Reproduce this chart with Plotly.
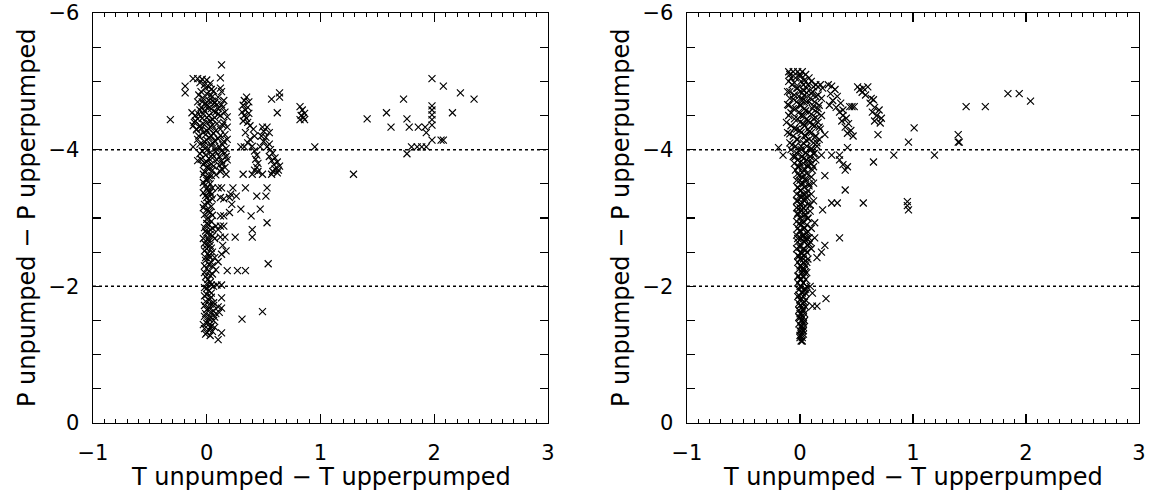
import plotly.graph_objects as go

# ---------------- data ----------------
# Left panel: scattered / clustered points
left_dT = [
    -0.12, -0.08, -0.04, 0.00, -0.19, -0.19, 0.13, 0.12, 0.12, 0.13,
    -0.02, 0.02, 0.04, -0.05, 0.00, 0.05, -0.03, 0.02, -0.08, 0.07,
    0.00, -0.05, 0.04, 0.10, 0.14, -0.02, 0.08, 0.16, -0.07, 0.02,
    0.12, 0.18, -0.04, 0.05, -0.10, 0.00, 0.15, 0.09, -0.06, 0.03,
    0.18, -0.09, 0.12, 0.00, -0.03, 0.06, 0.16, -0.07, 0.02, 0.10,
    0.18, -0.02, 0.05, -0.06, 0.14, 0.00, 0.08, -0.04, 0.03, 0.16,
    -0.01, 0.11, 0.05, -0.05, 0.18, 0.00, 0.14, -0.03, 0.06, 0.16,
    0.02, -0.02, 0.12, 0.17, 0.04, 0.00, 0.10, 0.15, 0.07, 0.13,
    -0.32, -0.12, -0.08, -0.10, -0.11, -0.12, -0.13, -0.09,
    0.00, 0.03, -0.02, 0.05, 0.10, 0.13, 0.01, -0.03, 0.04, 0.12,
    0.15, 0.00, 0.02, -0.02, 0.04, 0.00, 0.03, 0.12, 0.15, -0.02,
    0.01, 0.04, 0.00, 0.08, 0.12, 0.15, -0.02, 0.03, 0.10, 0.00,
    0.05, 0.12, 0.16, -0.03, 0.02, 0.00, 0.14, 0.04, -0.02, 0.17,
    0.01, 0.13, 0.03, 0.07, -0.01, 0.10, 0.02, 0.05, 0.00, 0.08,
    -0.02, 0.03, 0.01, 0.00, 0.04, 0.09, 0.13, -0.02, 0.02, 0.00,
    0.04, 0.13, -0.01, 0.03, 0.06, 0.10, 0.13, 0.00, 0.04, 0.08,
    0.11, -0.02, 0.02, 0.06, 0.00, 0.04, -0.02, 0.02, 0.05, 0.00,
    0.13, 0.10, 0.20, 0.21, 0.22, 0.20,
    0.23, 0.34, 0.53, 0.26, 0.44, 0.52, 0.30, 0.47, 0.39, 0.53,
    0.40, 0.40, 0.25, 0.54, 0.18, 0.27, 0.34, 0.49, 0.31, 1.29,
    0.95, 0.32, 0.40, 0.49, 0.57,
    0.35, 0.33, 0.37, 0.32, 0.36, 0.34, 0.31, 0.37, 0.33, 0.35,
    0.32, 0.36, 0.38, 0.41, 0.34, 0.42, 0.38, 0.36, 0.30, 0.33,
    0.40, 0.42, 0.44, 0.43, 0.45, 0.44, 0.42, 0.45,
    0.49, 0.53, 0.50, 0.55, 0.48, 0.52, 0.50, 0.55, 0.47, 0.53,
    0.56, 0.58, 0.55, 0.60, 0.57, 0.62, 0.59, 0.64, 0.60, 0.63,
    0.58, 0.62, 0.57, 0.64, 0.64, 0.62,
    0.82, 0.84, 0.86, 0.83, 0.85, 0.82, 0.86,
    1.41, 1.58, 1.62, 1.73, 1.76, 1.78, 1.86, 1.92, 1.93, 1.98,
    1.98, 1.98, 1.98, 1.98, 1.98, 1.98, 2.08, 2.06, 2.08, 2.16,
    2.23, 2.35, 1.76, 1.80, 1.85, 1.89, 1.93,
]
left_dP = [
    -5.04, -5.04, -5.03, -5.02, -4.93, -4.83, -5.24, -5.05, -4.90, -4.85,
    -4.95, -4.92, -4.88, -4.85, -4.82, -4.78, -4.75, -4.72, -4.70, -4.68,
    -4.65, -4.62, -4.60, -4.60, -4.62, -4.57, -4.55, -4.55, -4.52, -4.50,
    -4.50, -4.48, -4.46, -4.44, -4.42, -4.40, -4.40, -4.38, -4.35, -4.33,
    -4.33, -4.30, -4.30, -4.28, -4.25, -4.24, -4.22, -4.20, -4.18, -4.16,
    -4.15, -4.12, -4.10, -4.08, -4.07, -4.04, -4.02, -3.98, -3.96, -3.95,
    -3.92, -3.90, -3.88, -3.86, -3.85, -3.82, -3.80, -3.78, -3.76, -3.74,
    -3.72, -3.68, -3.68, -3.64, -3.62, -3.58, -4.77, -4.72, -4.69, -4.66,
    -4.44, -4.04, -3.84, -4.50, -4.40, -4.35, -4.54, -4.29,
    -3.55, -3.50, -3.47, -3.44, -3.44, -3.44, -3.40, -3.37, -3.34, -3.30,
    -3.28, -3.30, -3.25, -3.20, -3.17, -3.12, -3.08, -3.03, -3.03, -3.05,
    -3.00, -2.95, -2.92, -2.88, -2.88, -2.88, -2.86, -2.83, -2.83, -2.78,
    -2.74, -2.72, -2.72, -2.70, -2.66, -2.60, -2.60, -2.56, -2.52, -2.52,
    -2.48, -2.47, -2.42, -2.42, -2.38, -2.36, -2.32, -2.30, -2.26, -2.24,
    -2.20, -2.16, -2.10, -2.04, -2.02, -2.02, -2.02, -1.98, -1.94, -1.88,
    -1.84, -1.83, -1.78, -1.74, -1.72, -1.70, -1.68, -1.66, -1.62, -1.60,
    -1.62, -1.56, -1.52, -1.50, -1.46, -1.42, -1.38, -1.36, -1.34, -1.32,
    -1.32, -1.22, -3.30, -3.35, -3.20, -3.08,
    -3.44, -3.44, -3.44, -3.32, -3.32, -3.32, -3.13, -3.13, -3.03, -2.93,
    -2.83, -2.72, -2.72, -2.33, -2.23, -2.23, -2.23, -1.63, -1.52, -3.64,
    -4.04, -3.64, -3.64, -3.64, -3.64,
    -4.77, -4.72, -4.70, -4.65, -4.62, -4.58, -4.55, -4.53, -4.50, -4.46,
    -4.42, -4.40, -4.35, -4.30, -4.25, -4.20, -4.15, -4.10, -4.04, -4.04,
    -4.05, -3.98, -3.92, -3.86, -3.80, -3.74, -3.70, -3.68,
    -4.33, -4.33, -4.27, -4.25, -4.20, -4.18, -4.12, -4.08, -4.04, -4.04,
    -4.00, -3.95, -3.90, -3.88, -3.84, -3.82, -3.78, -3.76, -3.72, -3.70,
    -3.68, -3.66, -4.74, -4.77, -4.83, -4.54,
    -4.63, -4.58, -4.53, -4.50, -4.47, -4.44, -4.44,
    -4.45, -4.54, -4.33, -4.74, -4.45, -4.33, -4.33, -4.33, -4.25, -5.04,
    -4.64, -4.58, -4.51, -4.44, -4.36, -4.14, -4.93, -4.14, -4.14, -4.54,
    -4.83, -4.74, -3.94, -4.04, -4.04, -4.04, -4.04,
]
# Left panel: extra points filling the dense vertical column near dT = 0
left_col_dT = [
    -0.06, 0.03, -0.01, 0.06, -0.07, 0.03, -0.04, 0.05, -0.01, 0.09,
    -0.06, 0.01, 0.06, -0.03, 0.10, 0.00, 0.07, -0.08, 0.03, -0.03,
    0.05, 0.14, -0.05, 0.02, 0.08, -0.01, 0.12, 0.04, -0.08, 0.00,
    0.07, 0.15, -0.03, 0.04, 0.11, 0.17, 0.00, 0.08, 0.13, -0.06,
    0.05, 0.17, 0.02, 0.09, 0.13, -0.02, 0.04, 0.11, 0.00, 0.13,
    0.05, -0.03, 0.02, 0.08,
    0.02, -0.03, 0.01, 0.03, -0.01, 0.05, 0.01, -0.03, 0.02, 0.05,
    0.00, 0.02, 0.05, -0.01, 0.03, 0.07, 0.01, -0.02, 0.03, 0.00,
    0.05, 0.02, -0.01, 0.04, -0.02, 0.02, 0.05, -0.01, 0.03, 0.06,
    0.00, 0.04, -0.02, 0.02, 0.06, -0.02, 0.02, 0.06, -0.01, 0.03,
    0.07, 0.01, -0.03, 0.03, 0.07, -0.01, 0.03,
]
left_col_dP = [
    -4.98, -4.97, -4.90, -4.86, -4.80, -4.79, -4.70, -4.71, -4.68, -4.66,
    -4.58, -4.60, -4.56, -4.52, -4.52, -4.47, -4.47, -4.45, -4.42, -4.38,
    -4.36, -4.36, -4.31, -4.30, -4.28, -4.22, -4.21, -4.20, -4.15, -4.14,
    -4.13, -4.12, -4.06, -4.06, -4.04, -4.02, -3.99, -3.97, -3.98, -3.94,
    -3.93, -3.90, -3.87, -3.85, -3.84, -3.81, -3.79, -3.77, -3.74, -3.72,
    -3.70, -3.64, -3.62, -3.63,
    -3.58, -3.52, -3.45, -3.38, -3.33, -3.28, -3.22, -3.15, -3.10, -3.04,
    -2.98, -2.90, -2.85, -2.81, -2.76, -2.70, -2.70, -2.63, -2.60, -2.55,
    -2.50, -2.45, -2.42, -2.35, -2.30, -2.22, -2.18, -2.14, -2.06, -2.00,
    -1.97, -1.90, -1.86, -1.80, -1.76, -1.72, -1.68, -1.64, -1.60, -1.56,
    -1.55, -1.48, -1.44, -1.40, -1.40, -1.30, -1.28,
]

# Right panel: scattered / clustered points
right_dT = [
    -0.10, -0.06, -0.02, 0.02, -0.08, 0.00, 0.04, -0.05, 0.07, 0.12,
    0.16, 0.18, -0.03, 0.03, -0.09, 0.06, 0.10, -0.01, 0.14, -0.06,
    0.02, 0.08, -0.11, 0.00, 0.12, 0.16, -0.04, 0.05, -0.08, 0.10,
    0.01, 0.14, -0.02, 0.07, -0.12, 0.03, 0.11, 0.17, -0.05, 0.00,
    0.08, -0.09, 0.04, 0.13, -0.03, 0.06, 0.15, -0.07, 0.01, 0.10,
    -0.01, 0.05, 0.12, -0.04, 0.03, 0.09, 0.00, 0.07, -0.02, 0.04,
    0.11, -0.19, -0.15, 0.02, -0.01, 0.05, 0.00, 0.03, 0.08, -0.02,
    0.01, 0.06, 0.00, 0.04, -0.03, 0.02, 0.09, 0.00, 0.05, -0.02,
    0.03, 0.07, 0.01, -0.01, 0.04, 0.00, 0.06, 0.02, -0.02, 0.03,
    0.08, 0.00, 0.05, 0.01, -0.01, 0.03, 0.06, 0.00, 0.02, 0.04,
    -0.01, 0.01, 0.03, 0.00, 0.05, 0.02, -0.01, 0.01, 0.04, 0.00,
    0.02, 0.01, 0.00, 0.03, 0.01, 0.02, 0.00, 0.02,
    0.22, 0.12, 0.40, 0.20, 0.28, 0.33, 0.56, 0.35, 0.13, 0.04,
    0.08, 0.13, 0.15, 0.19, 0.22, 0.11, 0.23, 0.11, 0.15,
    0.25, 0.28, 0.31, 0.27, 0.33, 0.29, 0.36, 0.26, 0.32, 0.38,
    0.35, 0.38, 0.41, 0.37, 0.43, 0.40, 0.45, 0.42, 0.47, 0.44,
    0.46, 0.48, 0.51, 0.53, 0.56, 0.60, 0.58, 0.63, 0.65, 0.55,
    0.62, 0.66, 0.70, 0.64, 0.68, 0.72, 0.66, 0.71, 0.69,
    0.22, 0.19, 0.28, 0.35, 0.42, 0.35, 0.38, 0.40, 0.42, 0.65,
    0.83, 0.96, 1.01, 1.19, 1.40, 1.40, 1.41, 1.47, 1.64, 1.84,
    1.94, 2.04, 0.95, 0.96, 0.95,
]
right_dP = [
    -5.14, -5.14, -5.14, -5.14, -5.05, -5.07, -5.02, -4.98, -4.95, -4.92,
    -4.92, -4.95, -4.90, -4.87, -4.85, -4.83, -4.82, -4.78, -4.78, -4.74,
    -4.72, -4.70, -4.66, -4.65, -4.64, -4.60, -4.60, -4.57, -4.54, -4.52,
    -4.50, -4.47, -4.45, -4.42, -4.40, -4.38, -4.36, -4.33, -4.31, -4.28,
    -4.26, -4.23, -4.21, -4.18, -4.15, -4.13, -4.10, -4.07, -4.05, -4.02,
    -3.99, -3.96, -3.94, -3.90, -3.87, -3.85, -3.81, -3.78, -3.75, -3.72,
    -3.70, -4.03, -3.92, -3.66, -3.62, -3.58, -3.55, -3.50, -3.47, -3.44,
    -3.40, -3.36, -3.33, -3.29, -3.25, -3.22, -3.19, -3.15, -3.11, -3.07,
    -3.03, -2.99, -2.95, -2.91, -2.86, -2.82, -2.78, -2.74, -2.70, -2.66,
    -2.62, -2.57, -2.53, -2.48, -2.44, -2.40, -2.35, -2.30, -2.25, -2.20,
    -2.15, -2.10, -2.05, -2.00, -1.96, -1.92, -1.87, -1.82, -1.77, -1.72,
    -1.66, -1.60, -1.54, -1.48, -1.42, -1.36, -1.28, -1.20,
    -3.62, -3.51, -3.41, -3.12, -3.22, -3.22, -3.22, -2.71, -2.93, -2.71,
    -2.71, -2.71, -2.42, -2.50, -2.60, -1.90, -1.82, -1.71, -1.71,
    -4.95, -4.93, -4.88, -4.82, -4.78, -4.72, -4.68, -4.65, -4.62, -4.58,
    -4.55, -4.50, -4.46, -4.42, -4.38, -4.33, -4.28, -4.24, -4.20, -4.63,
    -4.63, -4.63, -4.92, -4.88, -4.90, -4.92, -4.80, -4.75, -4.73, -4.84,
    -4.68, -4.62, -4.58, -4.55, -4.50, -4.46, -4.42, -4.39, -4.22,
    -4.22, -3.92, -3.92, -3.92, -4.03, -3.85, -3.78, -3.70, -3.75, -3.82,
    -3.92, -4.11, -4.32, -3.92, -4.22, -4.11, -4.11, -4.63, -4.63, -4.82,
    -4.82, -4.71, -3.18, -3.12, -3.24,
]
# Right panel: extra points filling the dense vertical column near dT = 0
right_col_dT = [
    -0.09, 0.00, 0.05, -0.04, 0.08, -0.10, 0.01, 0.10, -0.07, 0.03,
    0.14, -0.02, 0.06, 0.20, -0.11, 0.00, 0.11, -0.05, 0.04, 0.16,
    -0.09, 0.02, 0.09, 0.19, -0.03, 0.06, 0.13, -0.10, 0.01, 0.17,
    -0.06, 0.04, 0.11, -0.01, 0.08, 0.15, -0.10, 0.03, 0.19, -0.05,
    0.06, 0.12, 0.00, 0.09, 0.16, -0.08, 0.04, 0.13, -0.03, 0.07,
    0.18, -0.11, 0.01, 0.10, -0.06, 0.05, 0.14, -0.02, 0.08, 0.17,
    -0.09, 0.03, 0.12, -0.04, 0.06, 0.15, -0.08, 0.01, 0.10, -0.03,
    0.05, 0.13, -0.06, 0.02, 0.09, -0.02, 0.06, 0.14, -0.05, 0.03,
    0.10, -0.01, 0.07, 0.12, -0.04, 0.04,
    -0.02, 0.06, 0.02, 0.10, -0.03, 0.05, 0.01, 0.08, -0.02, 0.04,
    0.00, 0.07, -0.03, 0.03, 0.10, 0.01, 0.06, -0.02, 0.04, 0.12,
    0.00, 0.07, -0.03, 0.03, 0.01, 0.09, -0.02, 0.05, 0.00, 0.07,
    -0.03, 0.03, 0.01, 0.06, -0.02, 0.04, 0.10, 0.00, 0.07, -0.03,
    0.03, 0.01, 0.06, -0.02, 0.04, 0.09, 0.00, 0.07, -0.03, 0.03,
    0.10, 0.01, 0.06, -0.02, 0.04, 0.00, 0.07, -0.02, 0.03, 0.01,
    0.05, -0.01, 0.04, 0.02, 0.06, -0.02, 0.03, 0.00, 0.05, -0.02,
    0.03, 0.01, 0.06, 0.09, -0.01, 0.04, 0.02, 0.05, -0.02, 0.03,
    0.00, 0.05, -0.01, 0.03, 0.02, 0.05, -0.01, 0.03, 0.00, 0.04,
    -0.01, 0.03, 0.01, 0.04, -0.01, 0.03, 0.01, 0.03, 0.00, 0.03,
    0.01, 0.03, 0.00, 0.02, 0.01,
]
right_col_dP = [
    -5.10, -5.10, -5.10, -5.05, -5.05, -5.00, -5.00, -5.00, -4.95, -4.95,
    -4.95, -4.90, -4.90, -4.90, -4.85, -4.85, -4.85, -4.80, -4.80, -4.80,
    -4.75, -4.75, -4.75, -4.75, -4.70, -4.70, -4.70, -4.65, -4.65, -4.65,
    -4.60, -4.60, -4.60, -4.55, -4.55, -4.55, -4.50, -4.50, -4.50, -4.45,
    -4.45, -4.45, -4.40, -4.40, -4.40, -4.35, -4.35, -4.35, -4.30, -4.30,
    -4.30, -4.25, -4.25, -4.25, -4.20, -4.20, -4.20, -4.15, -4.15, -4.15,
    -4.10, -4.10, -4.10, -4.05, -4.05, -4.05, -4.00, -4.00, -4.00, -3.95,
    -3.95, -3.95, -3.90, -3.90, -3.90, -3.85, -3.85, -3.85, -3.80, -3.80,
    -3.80, -3.75, -3.75, -3.75, -3.70, -3.70,
    -3.65, -3.65, -3.60, -3.60, -3.55, -3.55, -3.50, -3.50, -3.45, -3.45,
    -3.40, -3.40, -3.35, -3.35, -3.35, -3.30, -3.30, -3.25, -3.25, -3.25,
    -3.20, -3.20, -3.15, -3.15, -3.10, -3.10, -3.05, -3.05, -3.00, -3.00,
    -2.95, -2.95, -2.90, -2.90, -2.85, -2.85, -2.85, -2.80, -2.80, -2.75,
    -2.75, -2.70, -2.70, -2.65, -2.65, -2.65, -2.60, -2.60, -2.55, -2.55,
    -2.55, -2.50, -2.50, -2.45, -2.45, -2.40, -2.40, -2.35, -2.35, -2.30,
    -2.30, -2.25, -2.25, -2.20, -2.20, -2.15, -2.15, -2.10, -2.10, -2.05,
    -2.05, -2.00, -2.00, -2.00, -1.95, -1.95, -1.90, -1.90, -1.85, -1.85,
    -1.80, -1.80, -1.75, -1.75, -1.70, -1.70, -1.65, -1.65, -1.60, -1.60,
    -1.55, -1.55, -1.50, -1.50, -1.45, -1.45, -1.40, -1.40, -1.35, -1.35,
    -1.30, -1.30, -1.25, -1.25, -1.20,
]

x_ticks = [-1, 0, 1, 2, 3]
y_ticks = [0, -2, -4, -6]
ref_levels = [-4, -2]
x_title = "T unpumped − T upperpumped"
y_title = "P unpumped − P upperpumped"

# ---------------- figure ----------------
W, H = 1150, 492
TOP, BOT = 13, 69
PH = H - TOP - BOT  # plot-area height
FONT = "DejaVu Sans, Liberation Sans, sans-serif"

fig = go.Figure()
marker = dict(symbol="x-thin", size=7, color="black",
              line=dict(color="black", width=1.15))
fig.add_trace(go.Scatter(x=left_dT + left_col_dT, y=left_dP + left_col_dP,
                         mode="markers", marker=marker,
                         xaxis="x", yaxis="y", showlegend=False))
fig.add_trace(go.Scatter(x=right_dT + right_col_dT, y=right_dP + right_col_dP,
                         mode="markers", marker=marker,
                         xaxis="x2", yaxis="y2", showlegend=False))

common_x = dict(range=[-1, 3], tickvals=x_ticks, ticks="inside", ticklen=9,
                tickwidth=1.3, tickcolor="black", showline=True, linecolor="black",
                linewidth=1.4, mirror="allticks", showgrid=False, zeroline=False,
                ticklabeloverflow="allow", ticklabelstandoff=10,
                tickfont=dict(family=FONT, size=21, color="black"),
                minor=dict(dtick=0.1, ticks="inside", ticklen=4, tickwidth=1,
                           tickcolor="black", showgrid=False))
common_y = dict(range=[0, -6], tickvals=y_ticks, ticks="inside", ticklen=8,
                tickwidth=1.3, tickcolor="black", showline=True, linecolor="black",
                linewidth=1.4, mirror="allticks", showgrid=False, zeroline=False,
                ticklabeloverflow="allow", ticklabelstandoff=8,
                tickfont=dict(family=FONT, size=21, color="black"),
                minor=dict(dtick=0.5, ticks="inside", ticklen=8, tickwidth=1.1,
                           tickcolor="black", showgrid=False))

L0, L1, R0, R1 = 93, 548, 687, 1139
fig.update_layout(
    width=W, height=H,
    margin=dict(l=0, r=0, t=TOP, b=BOT, autoexpand=False),
    paper_bgcolor="white", plot_bgcolor="white",
    xaxis=dict(domain=[L0 / W, L1 / W], anchor="y", **common_x),
    yaxis=dict(domain=[0, 1], anchor="x", **common_y),
    xaxis2=dict(domain=[R0 / W, R1 / W], anchor="y2", **common_x),
    yaxis2=dict(domain=[0, 1], anchor="x2", **common_y),
)

for xr, yr in (("x", "y"), ("x2", "y2")):
    for lv in ref_levels:
        fig.add_shape(type="line", xref=xr, yref=yr, x0=-1, x1=3, y0=lv, y1=lv,
                      line=dict(color="black", width=1.5, dash="dot"))

TITLE_FONT = dict(family=FONT, size=24, color="black")
# x-axis titles
for a, b in ((L0, L1), (R0, R1)):
    fig.add_annotation(text=x_title, xref="paper", yref="paper",
                       x=(a + b) / 2 / W, y=(H - BOT - 477) / PH,
                       xanchor="center", yanchor="middle", showarrow=False,
                       font=TITLE_FONT)
# y-axis titles
for xc in (27, 621):
    fig.add_annotation(text=y_title, xref="paper", yref="paper",
                       x=xc / W, y=0.5, xanchor="center", yanchor="middle",
                       textangle=-90, showarrow=False, font=TITLE_FONT)

# remove the default 8px page margin so the figure fills the window exactly
fig.write_html("out.html",
               config={"displayModeBar": False, "staticPlot": True},
               post_script="document.body.style.margin='0';"
                           "document.body.style.overflow='hidden';")
